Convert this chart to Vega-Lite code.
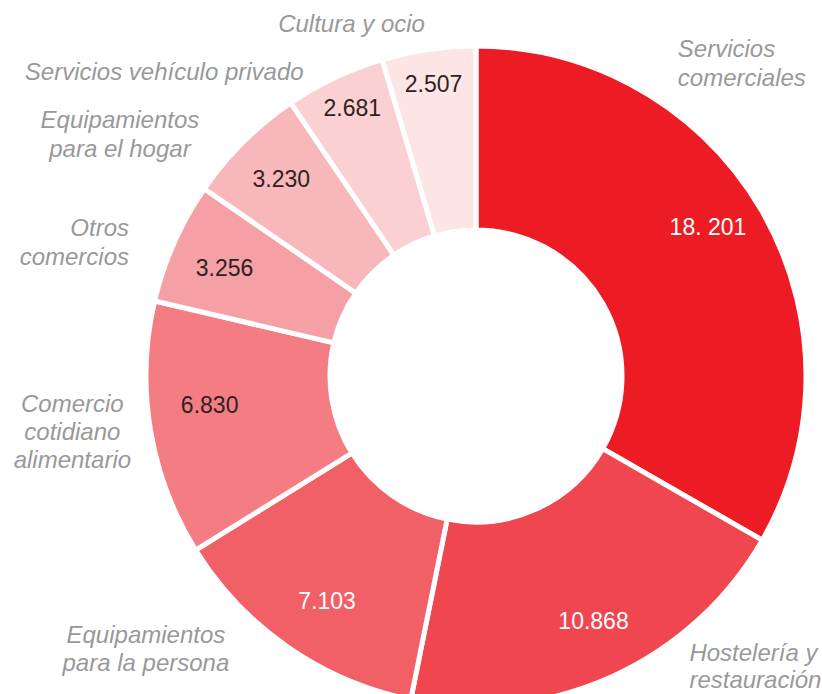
{
  "$schema": "https://vega.github.io/schema/vega-lite/v6.json",
  "width": 692,
  "height": 636,
  "autosize": {"type": "none"},
  "padding": {"left": 130, "top": 58, "right": 0, "bottom": 0},
  "background": "white",
  "config": {"view": {"stroke": null}},
  "data": {
    "values": [
      {"categoria": "Servicios comerciales", "nombre": "Servicios\ncomerciales", "valor": 18201, "etiqueta": "18. 201"},
      {"categoria": "Hostelería y restauración", "nombre": "Hostelería y\nrestauración", "valor": 10868, "etiqueta": "10.868"},
      {"categoria": "Equipamientos para la persona", "nombre": "Equipamientos\npara la persona", "valor": 7103, "etiqueta": "7.103"},
      {"categoria": "Comercio cotidiano alimentario", "nombre": "Comercio\ncotidiano\nalimentario", "valor": 6830, "etiqueta": "6.830"},
      {"categoria": "Otros comercios", "nombre": "Otros\ncomercios", "valor": 3256, "etiqueta": "3.256"},
      {"categoria": "Equipamientos para el hogar", "nombre": "Equipamientos\npara el hogar", "valor": 3230, "etiqueta": "3.230"},
      {"categoria": "Servicios vehículo privado", "nombre": "Servicios vehículo privado", "valor": 2681, "etiqueta": "2.681"},
      {"categoria": "Cultura y ocio", "nombre": "Cultura y ocio", "valor": 2507, "etiqueta": "2.507"}
    ]
  },
  "encoding": {
    "theta": {"field": "valor", "type": "quantitative", "stack": true},
    "order": {"field": "valor", "type": "quantitative", "sort": "descending"}
  },
  "layer": [
    {
      "mark": {"type": "arc", "innerRadius": 146, "outerRadius": 330, "stroke": "white", "strokeWidth": 5},
      "encoding": {
        "color": {
          "field": "categoria", "type": "nominal", "legend": null,
          "scale": {
            "domain": ["Servicios comerciales", "Hostelería y restauración", "Equipamientos para la persona", "Comercio cotidiano alimentario", "Otros comercios", "Equipamientos para el hogar", "Servicios vehículo privado", "Cultura y ocio"],
            "range": ["#ED1C24", "#EF4650", "#F15F67", "#F47D84", "#F5A0A5", "#F8B7BA", "#FAD0D2", "#FDE5E6"]
          }
        }
      }
    },
    {"mark": {"type": "text", "radius": 275, "dx": -6, "dy": -10, "fontSize": 23, "font": "Liberation Sans", "color": "white", "align": "center", "baseline": "middle"},
     "encoding": {"text": {"condition": {"test": "datum.categoria === 'Servicios comerciales'", "field": "etiqueta", "type": "nominal"}, "value": ""}}},
    {"mark": {"type": "text", "radius": 275, "dx": 4, "dy": -4, "fontSize": 23, "font": "Liberation Sans", "color": "white", "align": "center", "baseline": "middle"},
     "encoding": {"text": {"condition": {"test": "datum.categoria === 'Hostelería y restauración'", "field": "etiqueta", "type": "nominal"}, "value": ""}}},
    {"mark": {"type": "text", "radius": 275, "dx": 8, "dy": 0, "fontSize": 23, "font": "Liberation Sans", "color": "white", "align": "center", "baseline": "middle"},
     "encoding": {"text": {"condition": {"test": "datum.categoria === 'Equipamientos para la persona'", "field": "etiqueta", "type": "nominal"}, "value": ""}}},
    {"mark": {"type": "text", "radius": 275, "dx": 5, "dy": -15, "fontSize": 23, "font": "Liberation Sans", "color": "#2e1f1f", "align": "center", "baseline": "middle"},
     "encoding": {"text": {"condition": {"test": "datum.categoria === 'Comercio cotidiano alimentario'", "field": "etiqueta", "type": "nominal"}, "value": ""}}},
    {"mark": {"type": "text", "radius": 275, "dx": 0, "dy": 4, "fontSize": 23, "font": "Liberation Sans", "color": "#2e1f1f", "align": "center", "baseline": "middle"},
     "encoding": {"text": {"condition": {"test": "datum.categoria === 'Otros comercios'", "field": "etiqueta", "type": "nominal"}, "value": ""}}},
    {"mark": {"type": "text", "radius": 275, "dx": -1, "dy": -1, "fontSize": 23, "font": "Liberation Sans", "color": "#2e1f1f", "align": "center", "baseline": "middle"},
     "encoding": {"text": {"condition": {"test": "datum.categoria === 'Equipamientos para el hogar'", "field": "etiqueta", "type": "nominal"}, "value": ""}}},
    {"mark": {"type": "text", "radius": 275, "dx": -6, "dy": -18, "fontSize": 23, "font": "Liberation Sans", "color": "#2e1f1f", "align": "center", "baseline": "middle"},
     "encoding": {"text": {"condition": {"test": "datum.categoria === 'Servicios vehículo privado'", "field": "etiqueta", "type": "nominal"}, "value": ""}}},
    {"mark": {"type": "text", "radius": 275, "dx": -3, "dy": -19, "fontSize": 23, "font": "Liberation Sans", "color": "#2e1f1f", "align": "center", "baseline": "middle"},
     "encoding": {"text": {"condition": {"test": "datum.categoria === 'Cultura y ocio'", "field": "etiqueta", "type": "nominal"}, "value": ""}}},

    {"mark": {"type": "text", "radius": 328, "dx": -82, "dy": -155, "fontSize": 24, "font": "Liberation Sans", "fontStyle": "italic", "color": "#999999", "align": "left", "baseline": "alphabetic", "lineBreak": "\n", "lineHeight": 29},
     "encoding": {"text": {"condition": {"test": "datum.categoria === 'Servicios comerciales'", "field": "nombre", "type": "nominal"}, "value": ""}}},
    {"mark": {"type": "text", "radius": 328, "dx": 78, "dy": -14, "fontSize": 24, "font": "Liberation Sans", "fontStyle": "italic", "color": "#999999", "align": "left", "baseline": "alphabetic", "lineBreak": "\n", "lineHeight": 27},
     "encoding": {"text": {"condition": {"test": "datum.categoria === 'Hostelería y restauración'", "field": "nombre", "type": "nominal"}, "value": ""}}},
    {"mark": {"type": "text", "radius": 328, "dx": -143, "dy": -2, "fontSize": 24, "font": "Liberation Sans", "fontStyle": "italic", "color": "#999999", "align": "center", "baseline": "alphabetic", "lineBreak": "\n", "lineHeight": 28},
     "encoding": {"text": {"condition": {"test": "datum.categoria === 'Equipamientos para la persona'", "field": "nombre", "type": "nominal"}, "value": ""}}},
    {"mark": {"type": "text", "radius": 328, "dx": -80, "dy": -17, "fontSize": 24, "font": "Liberation Sans", "fontStyle": "italic", "color": "#999999", "align": "center", "baseline": "alphabetic", "lineBreak": "\n", "lineHeight": 28},
     "encoding": {"text": {"condition": {"test": "datum.categoria === 'Comercio cotidiano alimentario'", "field": "nombre", "type": "nominal"}, "value": ""}}},
    {"mark": {"type": "text", "radius": 328, "dx": -47, "dy": -7, "fontSize": 24, "font": "Liberation Sans", "fontStyle": "italic", "color": "#999999", "align": "right", "baseline": "alphabetic", "lineBreak": "\n", "lineHeight": 29},
     "encoding": {"text": {"condition": {"test": "datum.categoria === 'Otros comercios'", "field": "nombre", "type": "nominal"}, "value": ""}}},
    {"mark": {"type": "text", "radius": 328, "dx": -125, "dy": -15, "fontSize": 24, "font": "Liberation Sans", "fontStyle": "italic", "color": "#999999", "align": "center", "baseline": "alphabetic", "lineBreak": "\n", "lineHeight": 29},
     "encoding": {"text": {"condition": {"test": "datum.categoria === 'Equipamientos para el hogar'", "field": "nombre", "type": "nominal"}, "value": ""}}},
    {"mark": {"type": "text", "radius": 328, "dx": -32, "dy": 0, "fontSize": 24, "font": "Liberation Sans", "fontStyle": "italic", "color": "#999999", "align": "right", "baseline": "alphabetic"},
     "encoding": {"text": {"condition": {"test": "datum.categoria === 'Servicios vehículo privado'", "field": "nombre", "type": "nominal"}, "value": ""}}},
    {"mark": {"type": "text", "radius": 328, "dx": -4, "dy": -19, "fontSize": 24, "font": "Liberation Sans", "fontStyle": "italic", "color": "#999999", "align": "right", "baseline": "alphabetic"},
     "encoding": {"text": {"condition": {"test": "datum.categoria === 'Cultura y ocio'", "field": "nombre", "type": "nominal"}, "value": ""}}}
  ]
}
